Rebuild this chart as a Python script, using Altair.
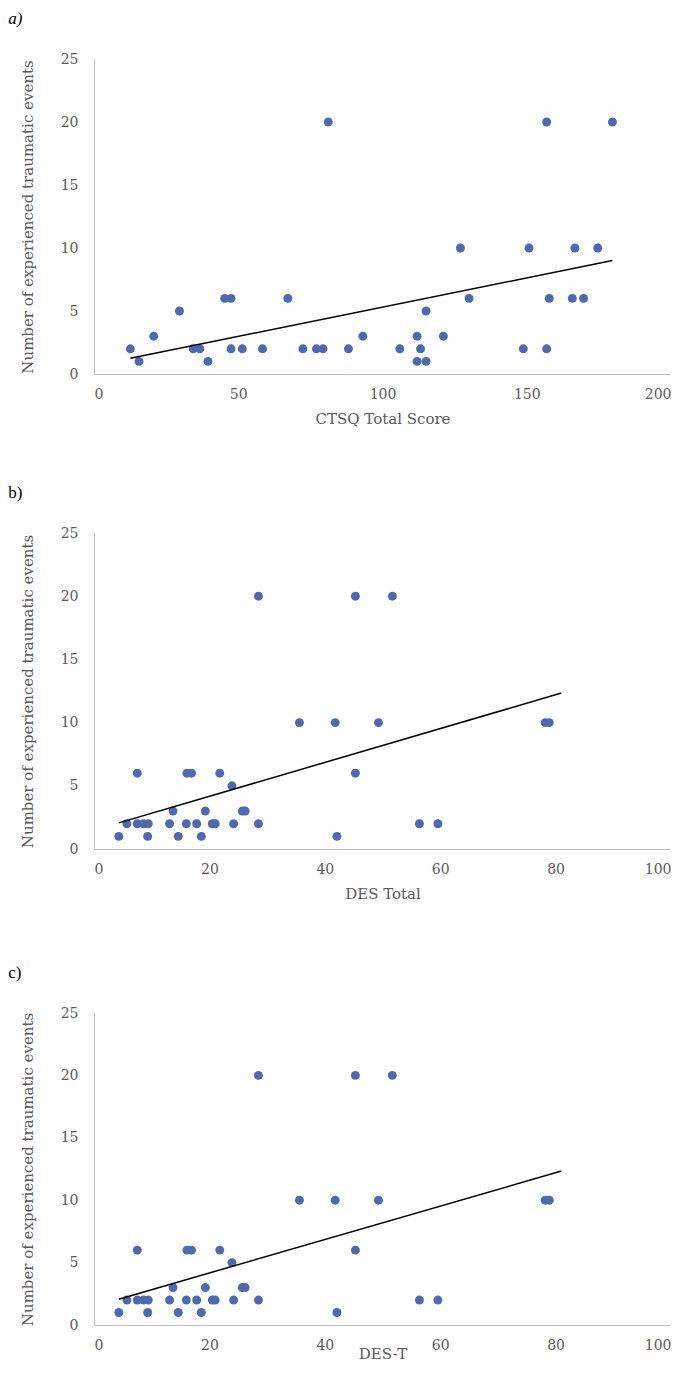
import altair as alt
import pandas as pd

# Panel a) CTSQ Total Score vs number of traumatic events
ctsq_x = [12.6, 15.6, 20.7, 29.6, 34.4, 36.7, 39.5, 45.3, 47.5, 47.5, 51.4, 58.4,
          67.2, 72.4, 77.1, 79.4, 81.2, 88.2, 93.2, 106.0, 112.0, 113.2, 112.0,
          115.1, 115.1, 121.1, 127.0, 130.0, 148.8, 150.8, 156.9, 156.9, 157.8,
          165.8, 166.7, 169.7, 174.6, 179.7]
ctsq_y = [2, 1, 3, 5, 2, 2, 1, 6, 6, 2, 2, 2,
          6, 2, 2, 2, 20, 2, 3, 2, 3, 2, 1,
          1, 5, 3, 10, 6, 2, 10, 20, 2, 6,
          6, 10, 6, 10, 20]

# Panels b) DES Total and c) DES-T
des_x = [4.3, 5.7, 7.5, 7.5, 8.6, 9.4, 9.3, 13.1, 13.7, 14.6, 16.0, 16.1, 16.9,
         17.8, 18.6, 19.3, 20.5, 21.0, 21.8, 23.9, 24.2, 25.7, 26.2, 28.5, 28.5,
         35.6, 41.8, 42.1, 45.3, 45.3, 49.3, 51.7, 56.4, 59.6, 78.2, 78.9]
des_y = [1, 2, 6, 2, 2, 2, 1, 2, 3, 1, 2, 6, 6,
         2, 1, 3, 2, 2, 6, 5, 2, 3, 3, 20, 2,
         10, 10, 1, 20, 6, 10, 20, 2, 2, 10, 10]

y_ticks = [0, 5, 10, 15, 20, 25]
ctsq_ticks = [0, 50, 100, 150, 200]
des_ticks = [0, 20, 40, 60, 80, 100]
y_title = "Number of experienced traumatic events"

POINT = "#4F69AD"
SERIF = "DejaVu Serif"
TIMES = "Liberation Serif"


def panel(xs, ys, xmax, xticks, xtitle, label, italic, xtitle_pad, extent, h):
    df = pd.DataFrame({"x": xs, "y": ys})
    xenc = alt.X("x:Q", scale=alt.Scale(domain=[0, xmax], nice=False),
                 axis=alt.Axis(values=xticks, title=xtitle, titlePadding=xtitle_pad))
    yenc = alt.Y("y:Q", scale=alt.Scale(domain=[0, 25], nice=False),
                 axis=alt.Axis(values=y_ticks, title=y_title, labelPadding=16,
                               titlePadding=25))
    pts = alt.Chart(df).mark_circle(size=80, color=POINT, opacity=1).encode(x=xenc, y=yenc)
    reg = alt.Chart(df).transform_regression("x", "y", extent=extent).mark_line(
        color="black", strokeWidth=1.5).encode(x="x:Q", y="y:Q")
    return alt.layer(pts, reg).properties(
        width=577, height=h,
        title=alt.TitleParams(label, anchor="start", fontStyle="italic" if italic else "normal",
                              font=TIMES, fontSize=17, fontWeight="normal", color="black",
                              dx=-12, offset=24),
    )


a = panel(ctsq_x, ctsq_y, 200, ctsq_ticks, "CTSQ Total Score", "a)", True, 10, [12.6, 179.7], 315)
b = panel(des_x, des_y, 100, des_ticks, "DES Total", "b)", False, 10, [4.3, 81.0], 316)
c = panel(des_x, des_y, 100, des_ticks, "DES-T", "c)", False, -6, [4.3, 81.0], 312)

chart = alt.vconcat(a, alt.vconcat(b, c, spacing=63), spacing=58).properties(
    padding={"left": 0, "top": 2, "right": 0, "bottom": 0}
).configure_view(stroke=None).configure_axis(
    domainColor="#BFBFBF", domainWidth=1, ticks=False, grid=False,
    labelFont=SERIF, labelFontSize=14, labelColor="#595959", labelPadding=13,
    titleFont=SERIF, titleFontSize=15, titleColor="#595959", titleFontWeight="normal",
)

chart.save("out.html", embed_options={"renderer": "svg", "actions": False})
